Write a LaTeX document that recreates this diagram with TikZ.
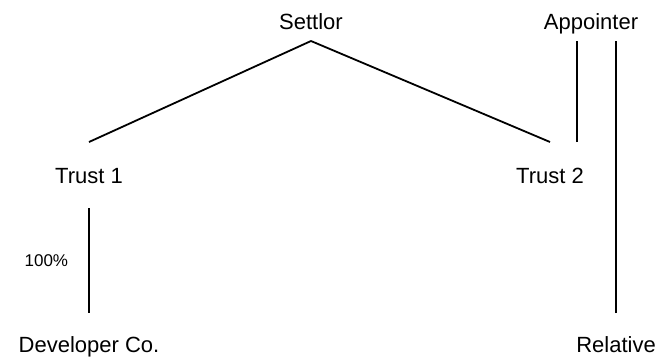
\documentclass[tikz,border=0pt]{standalone}
\usepackage{fontspec}
\setmainfont{Liberation Sans}
\usepackage{tikz}

\begin{document}
\begin{tikzpicture}[x=1pt,y=-1pt,line width=1.8pt]
  \tikzstyle{every node}=[font=\fontsize{22}{26}\selectfont,inner sep=0pt,
    text height=16pt,text depth=0pt,anchor=base,outer ysep=25pt]
  \tikzstyle{upper}=[outer ysep=12pt]
  \tikzstyle{lower}=[outer ysep=23pt]
  \tikzstyle{share}=[font=\fontsize{17}{20}\selectfont,text height=12pt]
  \useasboundingbox (0,0) rectangle (660,357);
  \node[upper] (settlor) at (311,29) {Settlor};
  \node[upper] (appointer) at (591,29) {Appointer};
  \node (trust1) at (89,183) {Trust 1};
  \node (trust2) at (550,183) {Trust 2};
  \node[lower] (dev) at (89,352) {Developer Co.};
  \node[lower] (relative) at (616,352) {Relative};
  \path[]
    (settlor.south) edge (trust1.north)
    (settlor.south) edge (trust2.north)
    (trust1.south) edge node[share,left=20pt] {100\%} (dev.north)
    ([xshift=27pt]trust2.north) edge ([xshift=27pt]trust2.north |- appointer.south)
    (relative.north) edge (relative.north |- appointer.south);
\end{tikzpicture}
\end{document}
